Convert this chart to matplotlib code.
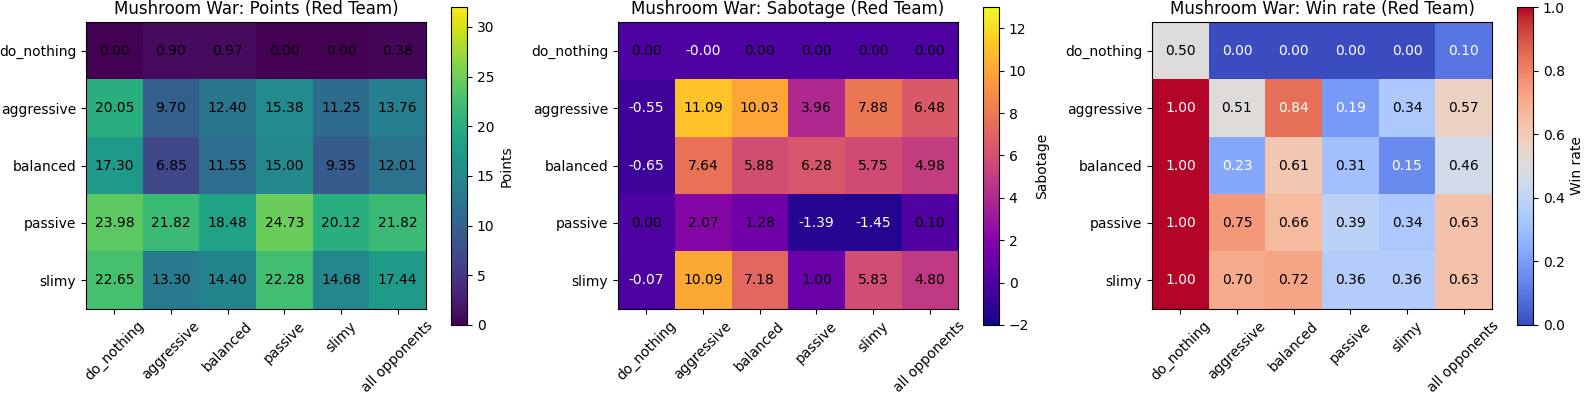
import numpy as np
import matplotlib
matplotlib.use('Agg')
import matplotlib.pyplot as plt

# strategies (rows = red team, cols = opponent)
ROWS = ['do_nothing', 'aggressive', 'balanced', 'passive', 'slimy']
COLS = ['do_nothing', 'aggressive', 'balanced', 'passive', 'slimy', 'all opponents']

points = [
    [0.00, 0.90, 0.97, 0.00, 0.00, 0.38],
    [20.05, 9.70, 12.40, 15.38, 11.25, 13.76],
    [17.30, 6.85, 11.55, 15.00, 9.35, 12.01],
    [23.98, 21.82, 18.48, 24.73, 20.12, 21.82],
    [22.65, 13.30, 14.40, 22.28, 14.68, 17.44],
]

sabotage = [
    [0.00, -0.001, 0.00, 0.00, 0.00, 0.00],
    [-0.55, 11.09, 10.03, 3.96, 7.88, 6.48],
    [-0.65, 7.64, 5.88, 6.28, 5.75, 4.98],
    [0.00, 2.07, 1.28, -1.39, -1.45, 0.10],
    [-0.07, 10.09, 7.18, 1.00, 5.83, 4.80],
]

win_rate = [
    [0.50, 0.00, 0.00, 0.00, 0.00, 0.10],
    [1.00, 0.51, 0.84, 0.19, 0.34, 0.57],
    [1.00, 0.23, 0.61, 0.31, 0.15, 0.46],
    [1.00, 0.75, 0.66, 0.39, 0.34, 0.63],
    [1.00, 0.70, 0.72, 0.36, 0.36, 0.63],
]

W, H = 1590, 395
fig = plt.figure(figsize=(W / 100, H / 100), dpi=100)

panels = [
    ('Points', points, 'viridis', 0, 32, 86, 451, lambda v: 'black'),
    ('Sabotage', sabotage, 'plasma', -2, 13, 618, 983,
     lambda v: 'white' if v < 0 else 'black'),
    ('Win rate', win_rate, 'coolwarm', 0, 1, 1152, 1517,
     lambda v: 'white' if (v < 0.25 or v > 0.8) else 'black'),
]

for name, data, cmap, vmin, vmax, ax_x, cb_x, txt_col in panels:
    arr = np.array(data)
    ax = fig.add_axes([ax_x / W, (H - 309) / H, 340 / W, 287 / H])
    cax = fig.add_axes([cb_x / W, (H - 325) / H, 16 / W, 318 / H])
    im = ax.imshow(arr, cmap=cmap, vmin=vmin, vmax=vmax, aspect='auto')
    ax.set_xticks(range(len(COLS)))
    ax.set_xticklabels(COLS, rotation=45)
    ax.set_yticks(range(len(ROWS)))
    ax.set_yticklabels(ROWS)
    ax.set_title(f'Mushroom War: {name} (Red Team)', fontsize=12)
    for i in range(arr.shape[0]):
        for j in range(arr.shape[1]):
            v = arr[i, j]
            ax.text(j, i, f'{v:.2f}', ha='center', va='center',
                    color=txt_col(v), fontsize=10)
    cb = fig.colorbar(im, cax=cax)
    cb.set_label(name)

plt.savefig('out.png', dpi=100)
